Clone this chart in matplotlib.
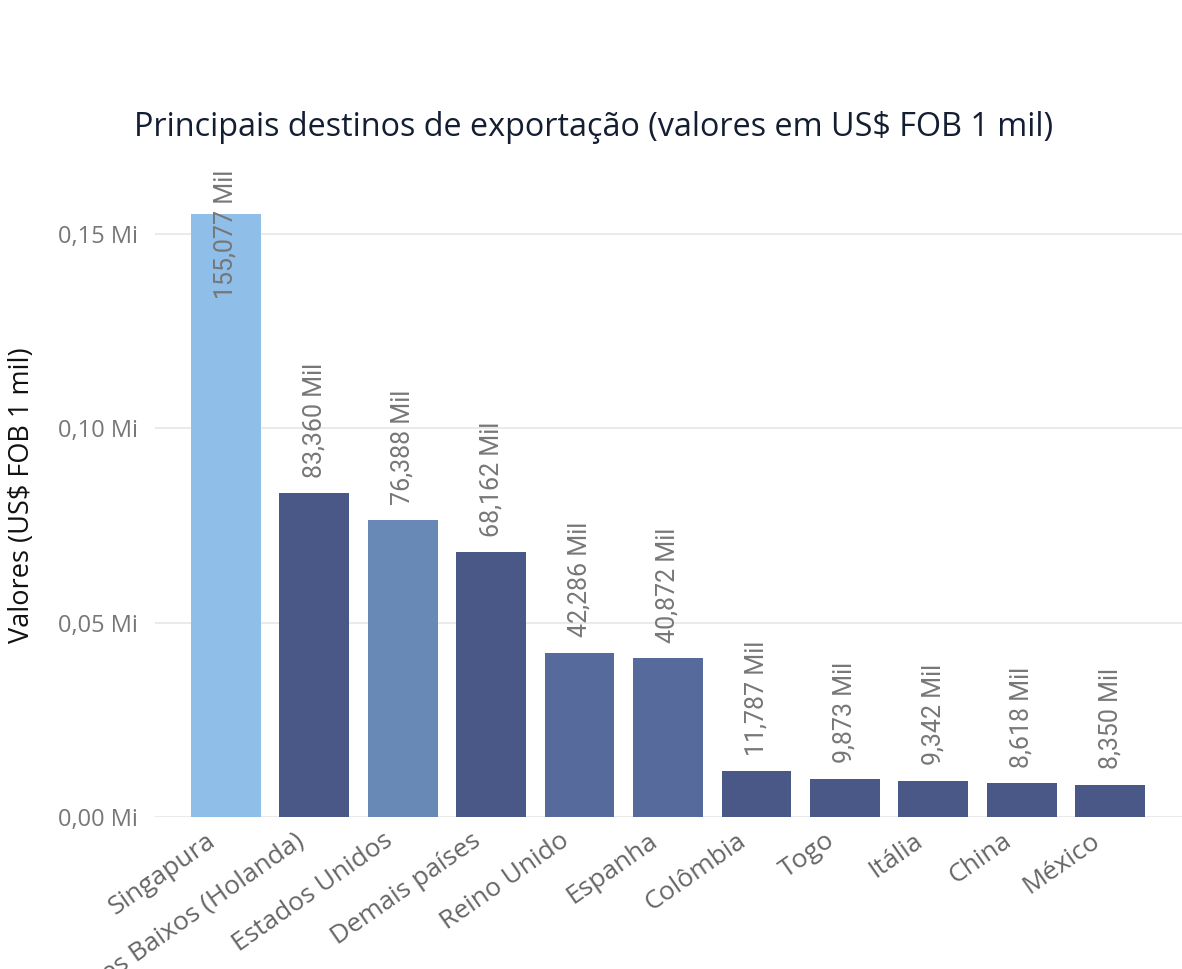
import matplotlib
matplotlib.use("Agg")
import matplotlib.pyplot as plt
from matplotlib.ticker import FuncFormatter
from matplotlib.transforms import ScaledTranslation

categories = ["Singapura", "Países Baixos (Holanda)", "Estados Unidos", "Demais países",
              "Reino Unido", "Espanha", "Colômbia", "Togo", "Itália", "China", "México"]
values_mil = [155.077, 83.360, 76.388, 68.162, 42.286, 40.872, 11.787, 9.873, 9.342, 8.618, 8.350]
bar_colors = ["#8FBEE8", "#4A5888", "#6889B5", "#4A5888", "#566A9C", "#566A9C",
              "#4A5888", "#4A5888", "#4A5888", "#4A5888", "#4A5888"]
yticks = [0.0, 0.05, 0.10, 0.15]

plt.rcParams['font.family'] = ['Open Sans', 'DejaVu Sans']

fig = plt.figure(figsize=(11.82, 9.69), dpi=100)
ax = fig.add_axes([0.131, 0.1569, 0.869, 0.6728])

vals_mi = [v / 1000 for v in values_mil]
x = list(range(len(categories)))
ax.bar(x, vals_mi, width=0.79, color=bar_colors, zorder=3)

ymax = 0.1678
ax.set_ylim(0, ymax)
ax.set_xlim(-0.80, len(categories) - 1 + 0.81)
ax.set_yticks(yticks)
ax.yaxis.set_major_formatter(FuncFormatter(lambda v, p: f"{v:.2f} Mi".replace(".", ",")))
ax.grid(axis='y', color='#E6E6E6', linewidth=1.2, zorder=0)
for s in ax.spines.values():
    s.set_visible(False)
ax.tick_params(axis='both', length=0)
ax.tick_params(axis='y', labelsize=17, labelcolor='#777777', pad=12)
ax.set_xticks(x)
ax.set_xticklabels(categories, rotation=35, ha='right', rotation_mode='anchor',
                   fontsize=19, color='#666666')
ax.tick_params(axis='x', pad=8)
off = ScaledTranslation(-20 / 100, 0, fig.dpi_scale_trans)
for lab in ax.get_xticklabels():
    lab.set_transform(lab.get_transform() + off)

label_h = 0.036  # approx label length in data units
for xi, v in zip(x, vals_mi):
    txt = f"{v*1000:,.3f}".replace(".", ",") + " Mil"
    if v + 0.004 + label_h > ymax:
        ax.text(xi, ymax - 0.0013, txt, rotation=90, ha='center', va='top',
                fontsize=18, color='#777777', family=['Roboto', 'DejaVu Sans'], zorder=4, clip_on=False)
    else:
        ax.annotate(txt, (xi, v), xytext=(0, 11), textcoords='offset points', rotation=90,
                    ha='center', va='bottom', fontsize=18, color='#777777',
                    family=['Roboto', 'DejaVu Sans'], zorder=4)

fig.text(0.5025, 1 - 128 / 969, "Principais destinos de exportação (valores em US$ FOB 1 mil)",
         ha='center', va='center', fontsize=23.3, color='#141E33')
fig.text(22 / 1182, 1 - 495 / 969, "Valores (US$ FOB 1 mil)", rotation=90,
         ha='center', va='center', fontsize=19.5, color='#111111')

fig.savefig("out.png", dpi=100)
